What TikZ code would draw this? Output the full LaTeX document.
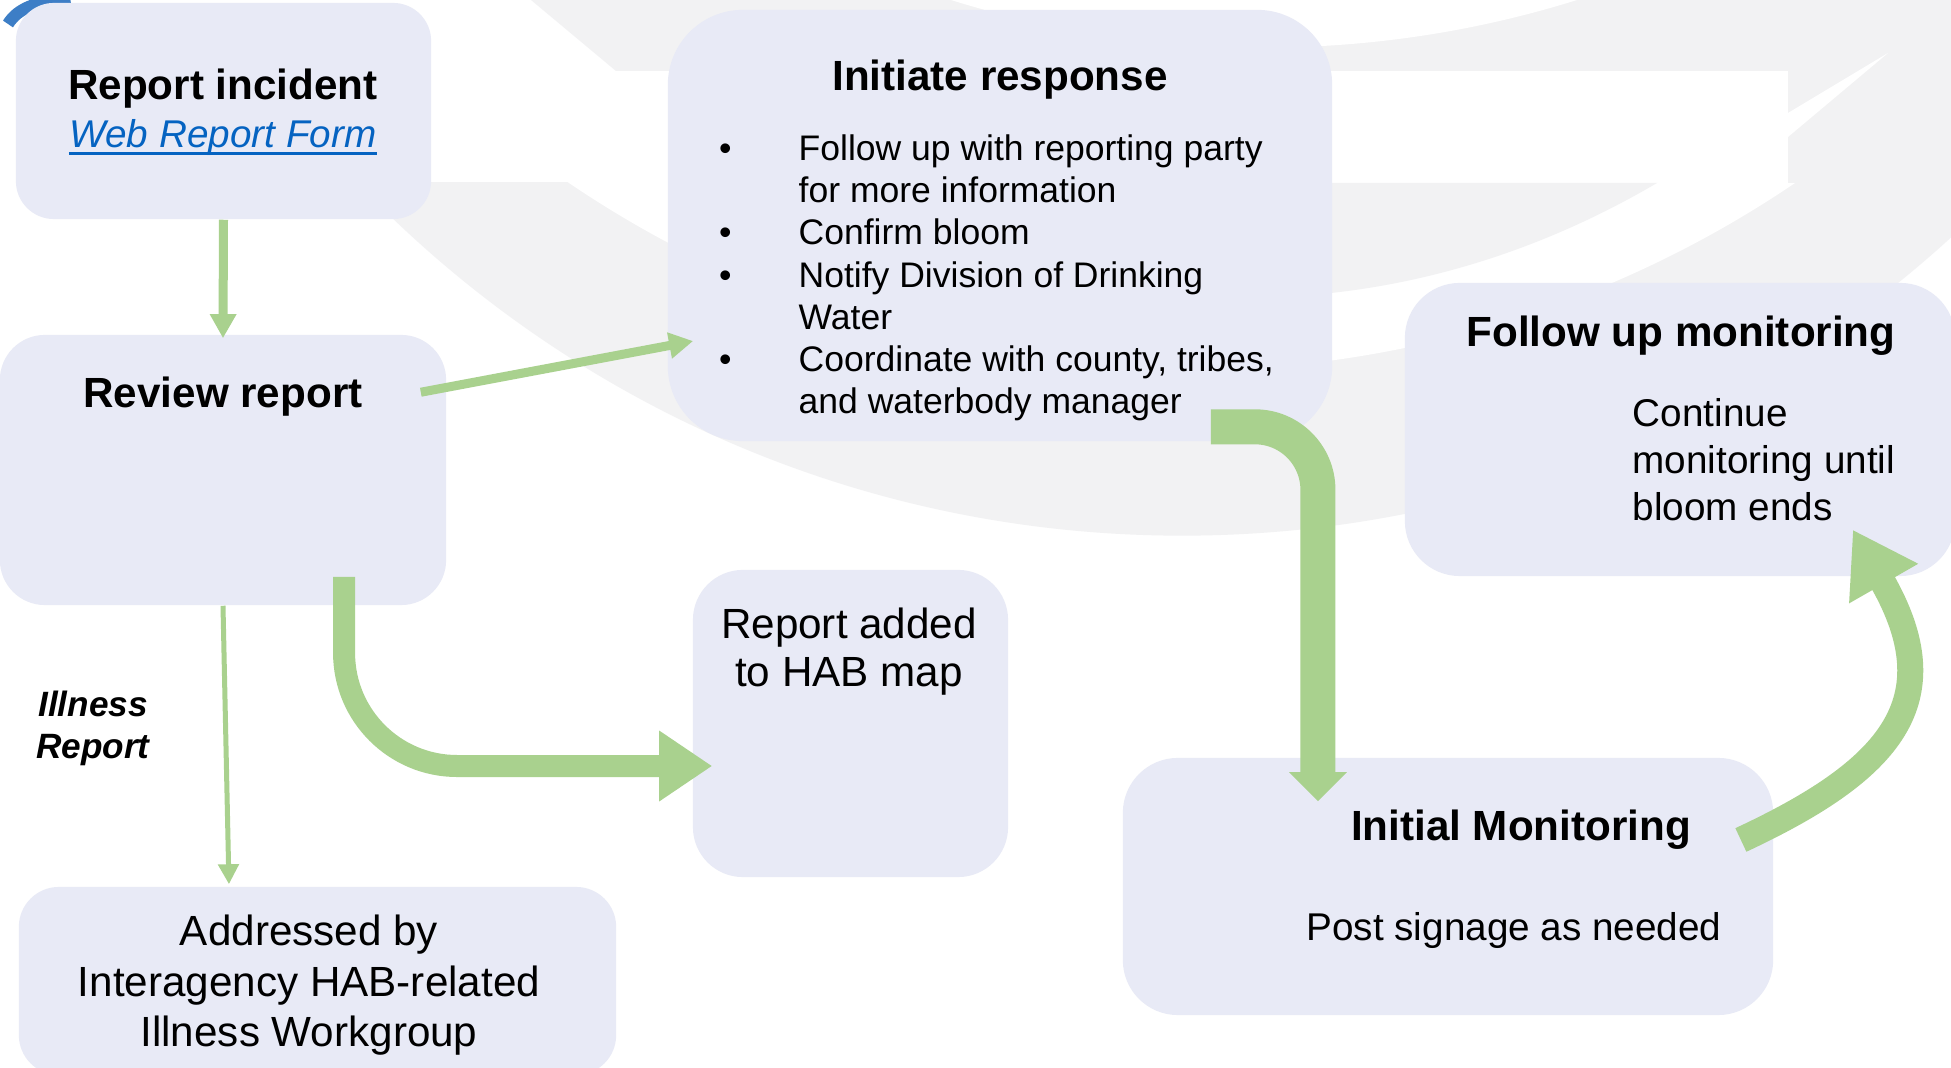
\documentclass[tikz,border=0pt]{standalone}
\usepackage{fontspec}
\setmainfont{Liberation Sans}
\usetikzlibrary{arrows.meta}

\definecolor{boxfill}{HTML}{E8EAF6}
\definecolor{flowgreen}{HTML}{A9D18E}
\definecolor{markgray}{HTML}{F2F2F3}
\definecolor{linkblue}{HTML}{0563C1}
\definecolor{logoblue}{HTML}{3D7EC6}
\newcommand\listdot{\llap{\textbullet\hspace{0.67cm}}}

\begin{document}
\begin{tikzpicture}[x=0.01cm, y=-0.01cm,
  box/.style={fill=boxfill, inner sep=0pt},
  hd/.style={font=\fontsize{12}{14.4}\selectfont\bfseries, inner sep=0pt},
  txt/.style={inner sep=0pt},
  thinflow/.style={flowgreen, line width=0.09cm, -{Triangle[length=0.24cm,width=0.25cm]}}]
\fill[white] (0,0) rectangle (1951,1068);
\useasboundingbox (0,0) rectangle (1951,1068);
% faint logo in the background
\begin{scope}
  \clip (0,183) rectangle (1951,1068);
  \fill[markgray] (1182,-605) circle[radius=11.4cm];
  \fill[white] (1182,-724) circle[radius=10.94cm];
\end{scope}
\fill[markgray] (531,0) -- (1951,0) -- (1951,183) -- (1788,183) -- (1788,71) -- (616,71) -- cycle;
\fill[white] (1264,-999) circle[radius=10.46cm];
\fill[white] (1888,53) -- (1788,113) -- (1788,137) -- cycle;
\fill[markgray] (1300,183) -- (1657,183) .. controls (1560,240) and (1450,280) .. (1331,293) -- (1300,293) -- cycle;
\draw[logoblue, line width=0.12cm] (8,24) .. controls (18,8) and (36,2) .. (70,-3);

% boxes
\node[box, minimum width=4.15cm, minimum height=2.16cm, rounded corners=0.38cm] (report) at (223.5,111) {};
\node[box, minimum width=4.46cm, minimum height=2.70cm, rounded corners=0.45cm] (review) at (223,470) {};
\node[box, minimum width=6.64cm, minimum height=4.31cm, rounded corners=0.75cm] (initiate) at (1000,225.5) {};
\node[box, minimum width=5.50cm, minimum height=2.93cm, rounded corners=0.55cm] (follow) at (1680,429.5) {};
\node[box, minimum width=3.15cm, minimum height=3.07cm, rounded corners=0.50cm] (hab) at (850.5,723.5) {};
\node[box, minimum width=6.50cm, minimum height=2.57cm, rounded corners=0.55cm] (initial) at (1448,886.5) {};
\node[box, minimum width=5.97cm, minimum height=1.88cm, rounded corners=0.40cm] (addressed) at (317.5,981) {};

% connectors
\draw[thinflow] (report.south) -- ([yshift=-0.04cm]review.north);
\draw[thinflow] ([xshift=-0.26cm,yshift=-0.58cm]review.north east) -- ([xshift=0.26cm,yshift=-1.155cm]initiate.west);
\draw[flowgreen, line width=0.05cm, -{Triangle[length=0.2cm,width=0.2cm]}] (review.south) -- ([xshift=-0.885cm,yshift=0.02cm]addressed.north);
\draw[flowgreen, line width=0.22cm, rounded corners=1.13cm, -{Triangle[length=0.53cm,width=0.67cm]}]
  ([xshift=1.21cm,yshift=0.29cm]review.south) |- ([xshift=0.2cm,yshift=-0.425cm]hab.west);
\draw[flowgreen, line width=0.35cm, rounded corners=0.63cm, -{Triangle[length=0.29cm,width=0.56cm]}]
  ([xshift=-1.22cm,yshift=0.15cm]initiate.south east) -| ([xshift=-1.30cm,yshift=-0.44cm]initial.north);
\draw[flowgreen, line width=0.26cm, -{Triangle[length=0.62cm,width=0.75cm]}]
  ([xshift=-0.33cm,yshift=0.465cm]initial.east) .. controls +(150,-70) and +(98,171) .. ([xshift=-1.03cm,yshift=0.47cm]follow.south east);

% texts (multi-line nodes sit on their last line)
\node[hd, anchor=base] (reportT) at (223,100) {Report incident};
\node[txt, anchor=base, text=linkblue, font=\fontsize{11}{13.2}\selectfont\itshape] (reportL) at (223,148) {Web Report Form};
\draw[linkblue, line width=0.025cm] ([yshift=-0.055cm]reportL.base west) -- ([yshift=-0.055cm]reportL.base east);
\node[hd, anchor=base] (reviewT) at (223,408) {Review report};
\node[hd, anchor=base] (initiateT) at (1000,91) {Initiate response};
\node[txt, anchor=base west, align=left, font=\fontsize{10.1}{12.03}\selectfont] (initiateL) at (798,414)
  {\listdot Follow up with reporting party\\for more information\\\listdot Confirm bloom\\\listdot Notify Division of Drinking\\Water\\\listdot Coordinate with county, tribes,\\and waterbody manager};
\node[hd, anchor=base] (followT) at (1681,347) {Follow up monitoring};
\node[txt, anchor=base west, align=left, font=\fontsize{11}{13.37}\selectfont] (followL) at (1632,521) {Continue\\monitoring until\\bloom ends};
\node[txt, anchor=base, align=center, font=\fontsize{12}{13.66}\selectfont] (habT) at (849,687) {Report added\\to HAB map};
\node[hd, anchor=base] (initialT) at (1521,841) {Initial Monitoring};
\node[txt, anchor=base, font=\fontsize{11}{13.2}\selectfont] (initialL) at (1514,941) {Post signage as needed};
\node[txt, anchor=base, align=center, font=\fontsize{12}{14.37}\selectfont] (addressedT) at (309,1047) {Addressed by\\Interagency HAB-related\\Illness Workgroup};
\node[txt, anchor=base, align=center, font=\fontsize{10}{11.95}\selectfont\bfseries\itshape] (illnessT) at (93,759) {Illness\\Report};
\end{tikzpicture}
\end{document}
